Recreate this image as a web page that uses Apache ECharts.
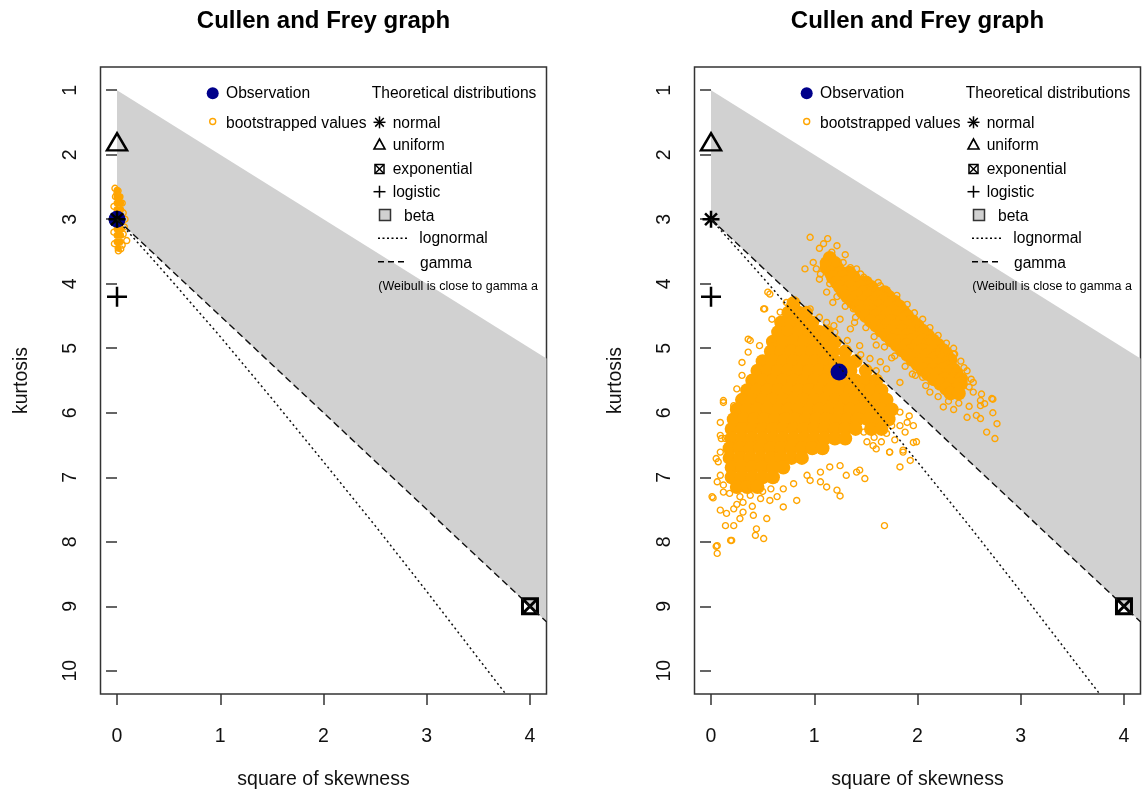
<!DOCTYPE html>
<html>
<head>
<meta charset="utf-8">
<script src="https://cdn.jsdelivr.net/npm/echarts@6/dist/echarts.min.js"></script>
<style>html,body{margin:0;padding:0;background:#fff;}</style>
</head>
<body>
<div id="main" style="width:1142px;height:795px;"></div>
<script type="text/javascript">
// tick labels
var xTicks = [0, 1, 2, 3, 4];
var yTicks = [1, 2, 3, 4, 5, 6, 7, 8, 9, 10];

// theoretical distributions (square of skewness, kurtosis)
var normalPt = [[0, 3]];
var uniformPt = [[0, 1.8]];
var exponentialPt = [[4, 9]];
var logisticPt = [[0, 4.2]];
var betaRegion = [[0, 1], [4.16, 5.16], [4.16, 9.24], [0, 3]];
var gammaLine = [[0, 3], [4.16, 9.24]];
var lognormalLine = [[0, 3], [0.2, 3.36], [0.5, 3.9], [1, 4.82], [1.5, 5.78], [2, 6.76], [2.5, 7.75], [3, 8.77], [3.5, 9.81], [3.77, 10.37]];

// left graph: observation + bootstrapped values
var obsLeft = [[0, 3.0]];
// dense part, rows of [kurtosis, [skew^2 ...]]
var bootRowsLeft = [
  [2.55, [0.0]], [2.65, [0.0, 0.03]], [2.75, [0.0, 0.035]], [2.85, [0.0, 0.035]],
  [2.95, [0.0, 0.04]], [3.05, [0.0, 0.04]], [3.15, [0.0, 0.04]], [3.25, [0.0, 0.035]],
  [3.35, [0.0, 0.03]], [3.45, [0.01]]
];
var bootLeft = [[-0.02, 2.52], [0.01, 2.56], [0.0, 2.6], [0.05, 2.75], [0.06, 2.9], [0.077, 3.0], [0.07, 3.12],
  [0.06, 3.23], [0.094, 3.33], [0.036, 3.46], [0.013, 3.49], [-0.025, 3.38], [-0.03, 3.2], [-0.03, 2.8],
  [0.05, 3.4], [-0.015, 2.65]];

// right graph
var obsRight = [[1.24, 5.37]];
var bootRowsRight = [
  [4.3, [0.8]],
  [4.45, [0.75, 0.85, 0.92]],
  [4.6, [0.68, 0.78, 0.88, 0.98]],
  [4.75, [0.65, 0.75, 0.85, 0.95, 1.05, 1.12]],
  [4.9, [0.6, 0.7, 0.8, 0.9, 1.0, 1.1, 1.2]],
  [5.05, [0.58, 0.68, 0.78, 0.88, 0.98, 1.08, 1.18, 1.3]],
  [5.2, [0.5, 0.6, 0.7, 0.8, 0.9, 1.0, 1.1, 1.2, 1.3, 1.4]],
  [5.35, [0.45, 0.55, 0.65, 0.75, 0.85, 0.95, 1.05, 1.15, 1.25, 1.35, 1.5]],
  [5.5, [0.4, 0.5, 0.6, 0.7, 0.8, 0.9, 1.0, 1.1, 1.2, 1.3, 1.4, 1.5, 1.6]],
  [5.65, [0.35, 0.45, 0.55, 0.65, 0.75, 0.85, 0.95, 1.05, 1.15, 1.25, 1.35, 1.45, 1.55, 1.65]],
  [5.8, [0.3, 0.4, 0.5, 0.6, 0.7, 0.8, 0.9, 1.0, 1.1, 1.2, 1.3, 1.4, 1.5, 1.6, 1.7]],
  [5.95, [0.25, 0.35, 0.45, 0.55, 0.65, 0.75, 0.85, 0.95, 1.05, 1.15, 1.25, 1.35, 1.45, 1.55, 1.65, 1.75]],
  [6.1, [0.22, 0.32, 0.42, 0.52, 0.62, 0.72, 0.82, 0.92, 1.02, 1.12, 1.22, 1.32, 1.42, 1.52, 1.62, 1.72]],
  [6.25, [0.2, 0.3, 0.4, 0.5, 0.6, 0.7, 0.8, 0.9, 1.0, 1.1, 1.2, 1.3, 1.4, 1.55, 1.65]],
  [6.4, [0.2, 0.3, 0.4, 0.5, 0.6, 0.7, 0.8, 0.9, 1.0, 1.1, 1.2, 1.3]],
  [6.55, [0.18, 0.28, 0.38, 0.48, 0.58, 0.68, 0.78, 0.88, 0.98, 1.08]],
  [6.7, [0.18, 0.28, 0.38, 0.48, 0.58, 0.68, 0.78, 0.88]],
  [6.85, [0.2, 0.3, 0.4, 0.5, 0.6, 0.7]],
  [7.0, [0.2, 0.3, 0.4, 0.5, 0.6]],
  [7.15, [0.25, 0.35, 0.45]],
  // upper band inside the beta area
  [3.6, [1.15]],
  [3.68, [1.12, 1.2]],
  [3.75, [1.12, 1.22]],
  [3.83, [1.16, 1.26, 1.34]],
  [3.9, [1.18, 1.28, 1.38]],
  [3.98, [1.22, 1.32, 1.42, 1.5]],
  [4.05, [1.25, 1.35, 1.45, 1.55]],
  [4.13, [1.28, 1.38, 1.48, 1.58, 1.68]],
  [4.2, [1.32, 1.42, 1.52, 1.62, 1.72]],
  [4.28, [1.37, 1.47, 1.57, 1.67, 1.77]],
  [4.35, [1.42, 1.52, 1.62, 1.72, 1.82]],
  [4.43, [1.46, 1.56, 1.66, 1.76, 1.86]],
  [4.5, [1.5, 1.6, 1.7, 1.8, 1.9]],
  [4.58, [1.55, 1.65, 1.75, 1.85, 1.95]],
  [4.65, [1.6, 1.7, 1.8, 1.9, 2.0]],
  [4.73, [1.65, 1.75, 1.85, 1.95, 2.05]],
  [4.8, [1.7, 1.8, 1.9, 2.0, 2.1]],
  [4.88, [1.75, 1.85, 1.95, 2.05, 2.15]],
  [4.95, [1.8, 1.9, 2.0, 2.1, 2.2]],
  [5.03, [1.85, 1.95, 2.05, 2.15, 2.25]],
  [5.1, [1.9, 2.0, 2.1, 2.2, 2.28]],
  [5.18, [1.95, 2.05, 2.15, 2.25, 2.32]],
  [5.25, [2.0, 2.1, 2.2, 2.3]],
  [5.33, [2.05, 2.15, 2.25, 2.35]],
  [5.4, [2.1, 2.2, 2.3, 2.38]],
  [5.48, [2.16, 2.26, 2.36, 2.42]],
  [5.55, [2.22, 2.32, 2.42]],
  [5.63, [2.28, 2.38]],
  [5.7, [2.32, 2.4]]
];
var bootRight = [
  [0.02, 7.32], [0.05, 8.07], [0.06, 8.18], [0.2, 7.98], [0.14, 7.75], [0.22, 7.75], [0.43, 7.9], [0.51, 7.95],
  [0.44, 7.8], [0.54, 7.64], [0.41, 7.59], [0.28, 7.64], [0.09, 7.51], [0.15, 7.56], [0.31, 7.54], [0.7, 7.46],
  [0.83, 7.36], [0.57, 7.36], [1.25, 7.29], [1.22, 7.2], [1.12, 7.15], [1.06, 7.07], [0.96, 7.05], [1.31, 6.97],
  [1.41, 6.92], [1.49, 7.02], [1.44, 6.89], [1.68, 7.75], [1.83, 6.84], [1.93, 6.74], [1.73, 6.61], [1.6, 6.56],
  [1.51, 6.45], [1.86, 6.58], [1.99, 6.45], [1.96, 6.2], [1.83, 6.2], [1.25, 6.82], [1.15, 6.84], [1.06, 6.92],
  [0.93, 6.97], [0.8, 7.1], [0.7, 7.18], [0.64, 7.3], [0.31, 7.39], [0.22, 7.49], [0.12, 7.23], [0.06, 7.07],
  [0.07, 6.76], [0.09, 6.61], [0.14, 6.4], [0.57, 4.16], [0.51, 4.39], [0.59, 4.55], [0.67, 4.44], [0.38, 4.88],
  [0.36, 5.06], [0.47, 4.96], [0.57, 4.88], [0.3, 5.42], [0.25, 5.63], [0.22, 5.89], [0.12, 5.84], [0.09, 6.15],
  [0.09, 6.35], [0.05, 6.71], [0.09, 6.97], [1.12, 4.6], [1.19, 4.65], [0.96, 4.39], [0.86, 4.44], [0.76, 4.34],
  [0.73, 4.29], [1.41, 5.21], [1.51, 5.32], [1.57, 5.47], [1.83, 5.99], [1.9, 6.15], [1.96, 6.46], [1.86, 6.61],
  [1.73, 6.61], [1.57, 6.51], [0.55, 4.13], [0.52, 4.39], [0.36, 4.86], [0.3, 5.22], [0.12, 5.81], [0.1, 6.4],
  [0.01, 7.3], [0.06, 8.06], [0.19, 7.98], [0.18, 7.25], [0.28, 7.3], [0.38, 7.28], [0.48, 7.33], [0.25, 7.42],
  [0.4, 7.45], [0.5, 7.22], [0.58, 7.18], [0.12, 7.12], [0.33, 7.18], [1.48, 6.3], [1.58, 6.38], [1.7, 6.32],
  [1.78, 6.42], [1.88, 6.3], [1.65, 6.45], [1.75, 6.2], [1.92, 6.05], [1.05, 4.52], [1.2, 4.75], [1.32, 4.88],
  [1.45, 5.1], [1.6, 5.35],
  [0.96, 3.28], [0.91, 3.77], [0.99, 3.67], [1.09, 3.38], [1.22, 3.41], [1.17, 3.51], [1.28, 3.67], [1.41, 3.77],
  [1.54, 4.03], [1.64, 4.03], [1.8, 4.24], [1.86, 4.39], [2.0, 4.7], [2.09, 4.86], [2.19, 5.06], [2.28, 5.16],
  [2.35, 5.09], [2.45, 5.3], [2.54, 5.53], [2.62, 5.71], [2.73, 5.79], [2.65, 5.86], [2.61, 6.09], [2.25, 5.91],
  [2.12, 5.68], [1.83, 5.53], [1.7, 5.32], [1.64, 5.21], [1.54, 5.16], [1.44, 4.96], [1.35, 4.7], [1.25, 4.55],
  [1.18, 4.29], [1.12, 4.13], [1.05, 3.93], [1.02, 3.77], [1.38, 4.39], [1.39, 4.6], [2.67, 6.3], [2.75, 6.4],
  [2.77, 6.17], [2.73, 6.0], [2.72, 5.78], [2.61, 5.89], [2.57, 6.04], [2.48, 6.07], [2.36, 5.09], [2.54, 5.68],
  [2.61, 5.81], [1.05, 3.45], [1.13, 3.3], [1.3, 3.55], [1.48, 3.9], [2.4, 5.85], [2.5, 5.9], [2.35, 5.95],
  [2.05, 5.45], [1.95, 5.4], [1.6, 4.95], [1.75, 5.15], [2.45, 5.45], [2.5, 5.6],
  [1.35, 3.75], [1.45, 3.85], [1.62, 3.98], [1.7, 4.1], [1.8, 4.18], [1.9, 4.32], [1.97, 4.45], [2.05, 4.55],
  [2.12, 4.68], [2.2, 4.8], [2.28, 4.92], [2.35, 5.0], [2.42, 5.2], [2.48, 5.35], [2.52, 5.48],
  [1.06, 3.85], [1.15, 4.0], [1.22, 4.2], [1.3, 4.35], [1.4, 4.52], [1.5, 4.68], [1.58, 4.82], [1.68, 4.98],
  [1.78, 5.12], [1.88, 5.28], [1.98, 5.42], [2.08, 5.58], [2.2, 5.75], [2.3, 5.82]
];

var FONT = "'Liberation Sans', Arial, Helvetica, sans-serif";
var panelLeft = [100.5, 694.5];   // left edge of each plot box
var dx = 594;                      // shift of the second graph

function rowsToPoints(rows) {
    var out = [];
    rows.forEach(function (r) {
        r[1].forEach(function (x) { out.push([x, r[0]]); });
    });
    return out;
}

var starPath = 'path://M10 0L10 20M0 10L20 10M3 3L17 17M3 17L17 3';
var plusPath = 'path://M10 0L10 20M0 10L20 10';
var boxXPath = 'path://M0 0L20 0L20 20L0 20ZM0 0L20 20M20 0L0 20';

function panelSeries(gi, obs, coreRows, coreSize, boot) {
    var ax = {xAxisIndex: gi, yAxisIndex: gi};
    function mk(o) { return Object.assign({}, ax, o); }
    return [
        mk({type: 'custom', data: [[0, 1]], clip: true, silent: true,
            renderItem: function (params, api) {
                var pts = betaRegion.map(function (p) { return api.coord(p); });
                return {type: 'polygon', shape: {points: pts}, style: {fill: '#d1d1d1', stroke: null}};
            }}),
        mk({type: 'line', data: gammaLine, symbol: 'none', clip: true,
            lineStyle: {color: '#111', width: 1.4, type: [7, 4]}}),
        mk({type: 'line', data: lognormalLine, symbol: 'none', clip: true,
            lineStyle: {color: '#111', width: 1.5, type: [2, 3]}}),
        mk({type: 'scatter', data: rowsToPoints(coreRows), symbol: 'circle', symbolSize: coreSize,
            itemStyle: {color: '#FFA500', opacity: 1}}),
        mk({type: 'scatter', data: boot, symbol: 'circle', symbolSize: 6,
            itemStyle: {color: 'rgba(0,0,0,0)', borderColor: '#FFA500', borderWidth: 1.4, opacity: 1}}),
        mk({type: 'scatter', data: obs, symbol: 'circle', symbolSize: 17,
            itemStyle: {color: '#00008B', opacity: 1}}),
        mk({type: 'scatter', data: normalPt, symbol: starPath, symbolSize: 17,
            itemStyle: {color: 'rgba(0,0,0,0)', borderColor: '#000', borderWidth: 2.5, opacity: 1}}),
        mk({type: 'scatter', data: uniformPt, symbol: 'triangle', symbolSize: [20, 17],
            itemStyle: {color: 'rgba(0,0,0,0)', borderColor: '#000', borderWidth: 2.5, opacity: 1}}),
        mk({type: 'scatter', data: exponentialPt, symbol: boxXPath, symbolSize: 15,
            itemStyle: {color: 'rgba(0,0,0,0)', borderColor: '#000', borderWidth: 3, opacity: 1}}),
        mk({type: 'scatter', data: logisticPt, symbol: plusPath, symbolSize: 20,
            itemStyle: {color: 'rgba(0,0,0,0)', borderColor: '#000', borderWidth: 2.5, opacity: 1}})
    ];
}

function legendItems(o) {
    var t = function (x, y, s) {
        return {type: 'text', z: 100, x: x + o, y: y, style: {text: s, fontSize: 15.6, fontFamily: FONT,
            fill: '#000', verticalAlign: 'middle'}};
    };
    var ln = function (x1, y1, x2, y2, w, dash) {
        return {type: 'line', z: 100, shape: {x1: x1 + o, y1: y1, x2: x2 + o, y2: y2},
            style: {stroke: '#000', lineWidth: w || 1.5, lineDash: dash || null}};
    };
    var sx = 379.5;
    return [
        {type: 'circle', z: 100, shape: {cx: 212.7 + o, cy: 93.3, r: 6}, style: {fill: '#00008B'}},
        t(226, 93.3, 'Observation'),
        {type: 'circle', z: 100, shape: {cx: 212.7 + o, cy: 121.5, r: 3}, style: {fill: 'none', stroke: '#FFA500', lineWidth: 1.4}},
        t(226, 123.3, 'bootstrapped values'),
        t(371.7, 93.3, 'Theoretical distributions'),
        ln(sx - 6, 122.3, sx + 6, 122.3), ln(sx, 116.3, sx, 128.3),
        ln(sx - 4.3, 118, sx + 4.3, 126.6), ln(sx - 4.3, 126.6, sx + 4.3, 118),
        t(392.7, 123.3, 'normal'),
        {type: 'polygon', z: 100, shape: {points: [[sx + o, 139], [sx - 5.5 + o, 149], [sx + 5.5 + o, 149]]},
            style: {fill: 'none', stroke: '#000', lineWidth: 1.6}},
        t(392.7, 145.7, 'uniform'),
        {type: 'rect', z: 100, shape: {x: sx - 4.5 + o, y: 164.5, width: 9, height: 9}, style: {fill: 'none', stroke: '#000', lineWidth: 1.5}},
        ln(sx - 4.5, 164.5, sx + 4.5, 173.5), ln(sx - 4.5, 173.5, sx + 4.5, 164.5),
        t(392.7, 169.7, 'exponential'),
        ln(sx - 6, 191.7, sx + 6, 191.7), ln(sx, 185.7, sx, 197.7),
        t(392.7, 192.7, 'logistic'),
        {type: 'rect', z: 100, shape: {x: 379.5 + o, y: 209.5, width: 11, height: 11}, style: {fill: '#d1d1d1', stroke: '#333', lineWidth: 1.5}},
        t(404, 216.7, 'beta'),
        ln(378, 238.3, 407, 238.3, 1.5, [2, 2.5]),
        t(419.3, 239, 'lognormal'),
        ln(378, 261.7, 406, 261.7, 1.5, [6, 4]),
        t(420, 263.3, 'gamma'),
        {type: 'text', z: 100, x: 378.3 + o, y: 286.7, style: {text: '(Weibull is close to gamma and lognormal)',
            fontSize: 12.5, fontFamily: FONT, fill: '#000', verticalAlign: 'middle',
            width: 167, overflow: 'truncate', ellipsis: ''}}
    ];
}

var grids = [], xAxes = [], yAxes = [], graphics = [];
for (var gi = 0; gi < 2; gi++) {
    grids.push({left: panelLeft[gi], top: 67, width: 446, height: 629, show: true,
        borderColor: '#333', borderWidth: 1.5, backgroundColor: 'transparent'});
    xAxes.push({type: 'value', gridIndex: gi, min: -0.16, max: 4.16,
        axisLine: {show: false}, splitLine: {show: false},
        axisTick: {show: true, length: 11, customValues: xTicks, lineStyle: {color: '#333', width: 1.5}},
        axisLabel: {customValues: xTicks, fontSize: 19.5, fontFamily: FONT, color: '#111', margin: 33},
        name: 'square of skewness', nameLocation: 'middle', nameGap: 76,
        nameTextStyle: {fontSize: 19.5, fontFamily: FONT, color: '#111'}});
    yAxes.push({type: 'value', gridIndex: gi, inverse: true, min: 0.64, max: 10.36,
        axisLine: {show: false}, splitLine: {show: false},
        axisTick: {show: true, length: 11, customValues: yTicks, lineStyle: {color: '#333', width: 1.5}},
        axisLabel: {customValues: yTicks, rotate: 90, fontSize: 19.5, fontFamily: FONT, color: '#111', margin: 20},
        name: 'kurtosis', nameLocation: 'middle', nameGap: 69, nameRotate: 90,
        nameTextStyle: {fontSize: 19.5, fontFamily: FONT, color: '#111'}});
    graphics.push({type: 'text', z: 100, x: 323.5 + gi * dx, y: 21, style: {text: 'Cullen and Frey graph',
        fontSize: 24, fontWeight: 'bold', fontFamily: FONT, fill: '#000', align: 'center', verticalAlign: 'middle'}});
    graphics = graphics.concat(legendItems(gi * dx));
}

var series = panelSeries(0, obsLeft, bootRowsLeft, 7, bootLeft)
    .concat(panelSeries(1, obsRight, bootRowsRight, 14, bootRight));

var myChart = echarts.init(document.getElementById('main'));
myChart.setOption({
    animation: false,
    grid: grids,
    xAxis: xAxes,
    yAxis: yAxes,
    series: series,
    graphic: graphics
});
</script>
</body>
</html>
